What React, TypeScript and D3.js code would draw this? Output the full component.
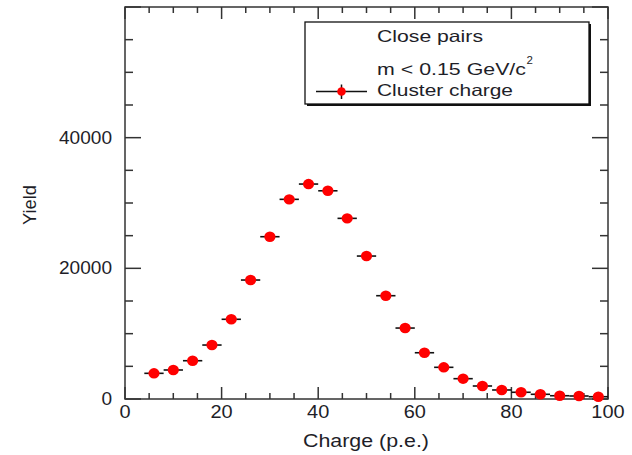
import React from "react";
import * as d3 from "d3";

const binCenters = [6, 10, 14, 18, 22, 26, 30, 34, 38, 42, 46, 50, 54, 58, 62, 66, 70, 74, 78, 82, 86, 90, 94, 98];
const yieldValues = [3930, 4440, 5860, 8260, 12200, 18210, 24840, 30560, 32900, 31870, 27650, 21880, 15810, 10860, 7080, 4850, 3110, 1990, 1380, 1030, 720, 500, 460, 350];
const binHalfWidth = 2;

const xDomain = [0, 100];
const yDomain = [0, 60000];
const xLabelTicks = [0, 20, 40, 60, 80, 100];
const yLabelTicks = [0, 20000, 40000];

const xTitle = "Charge (p.e.)";
const yTitle = "Yield";
const legendTitle = "Close pairs";
const legendCut = "m < 0.15 GeV/c";
const legendCutSup = "2";
const legendEntry = "Cluster charge";

const W = 632;
const H = 455;
const L = 125, R = 608, T = 7, B = 399;
const FONT = "'Liberation Sans', Arial, Helvetica, sans-serif";
const INK = "#1e1e28";
const AX = "#333";

export default function App() {
  const x = d3.scaleLinear().domain(xDomain).range([L, R]);
  const y = d3.scaleLinear().domain(yDomain).range([B, T]);
  const xMinor = x.ticks(20);
  const yMinor = y.ticks(12);
  const xMajorSet = new Set(xLabelTicks);
  const yMajorSet = new Set([0, 20000, 40000, 60000]);

  return (
    <svg width={W} height={H} style={{ position: "absolute", left: 0, top: 0, background: "#fff" }}>
      <rect x={0} y={0} width={W} height={H} fill="#fff" />
      {/* frame */}
      <rect x={L} y={T} width={R - L} height={B - T} fill="none" stroke={AX} strokeWidth={1.5} />
      {/* x ticks bottom & top */}
      {xMinor.map((v) => {
        const len = xMajorSet.has(v) ? 12 : 6;
        return (
          <g key={"xt" + v}>
            <line x1={x(v)} x2={x(v)} y1={B} y2={B - len} stroke={AX} strokeWidth={1.5} />
            <line x1={x(v)} x2={x(v)} y1={T} y2={T + len} stroke={AX} strokeWidth={1.5} />
          </g>
        );
      })}
      {/* y ticks left & right */}
      {yMinor.map((v) => {
        const len = yMajorSet.has(v) ? 16 : 8;
        return (
          <g key={"yt" + v}>
            <line x1={L} x2={L + len} y1={y(v)} y2={y(v)} stroke={AX} strokeWidth={1.5} />
            <line x1={R} x2={R - len} y1={y(v)} y2={y(v)} stroke={AX} strokeWidth={1.5} />
          </g>
        );
      })}
      {/* x labels */}
      {xLabelTicks.map((v) => {
        const s = String(v);
        return (
          <text key={"xl" + v} x={x(v)} y={418} textAnchor="middle" fontFamily={FONT} fontSize={17.5} fill={INK}
            textLength={s.length * 11.1} lengthAdjust="spacingAndGlyphs">
            {s}
          </text>
        );
      })}
      {/* y labels */}
      {yLabelTicks.map((v) => {
        const s = String(v);
        return (
          <text key={"yl" + v} x={112} y={y(v) + 6} textAnchor="end" fontFamily={FONT} fontSize={17.5} fill={INK}
            textLength={s.length * 10.6} lengthAdjust="spacingAndGlyphs">
            {s}
          </text>
        );
      })}
      {/* axis titles */}
      <text x={366} y={447} textAnchor="middle" fontFamily={FONT} fontSize={17.5} fill={INK}
        textLength={126} lengthAdjust="spacingAndGlyphs">{xTitle}</text>
      <text transform={`translate(36,205) rotate(-90)`} textAnchor="middle" fontFamily={FONT} fontSize={17.5} fill={INK}
        textLength={40} lengthAdjust="spacingAndGlyphs">{yTitle}</text>

      {/* data */}
      {binCenters.map((c, i) => (
        <g key={"p" + i}>
          <line x1={x(c - binHalfWidth)} x2={x(c + binHalfWidth)} y1={y(yieldValues[i])} y2={y(yieldValues[i])}
            stroke="#111" strokeWidth={1.6} />
          <ellipse cx={x(c)} cy={y(yieldValues[i])} rx={5.6} ry={5.2} fill="#ff0000" />
        </g>
      ))}

      {/* legend */}
      <rect x={307} y={24} width={284} height={82} fill="#111" />
      <rect x={305} y={22} width={284} height={82} fill="#fff" stroke="#111" strokeWidth={1.3} />
      <text x={377} y={42} fontFamily={FONT} fontSize={16.5} fill={INK} textLength={106} lengthAdjust="spacingAndGlyphs">
        {legendTitle}
      </text>
      <text x={377} y={75} fontFamily={FONT} fontSize={16.5} fill={INK} textLength={149} lengthAdjust="spacingAndGlyphs">
        {legendCut}
      </text>
      <text x={526.5} y={64} fontFamily={FONT} fontSize={11.5} fill={INK}>{legendCutSup}</text>
      <text x={377} y={96} fontFamily={FONT} fontSize={16.5} fill={INK} textLength={136} lengthAdjust="spacingAndGlyphs">
        {legendEntry}
      </text>
      <line x1={316} x2={367} y1={91.5} y2={91.5} stroke="#111" strokeWidth={1.5} />
      <line x1={341.5} x2={341.5} y1={84.5} y2={99} stroke="#111" strokeWidth={1.5} />
      <circle cx={341.5} cy={91.5} r={4.3} fill="#ff0000" />
    </svg>
  );
}
